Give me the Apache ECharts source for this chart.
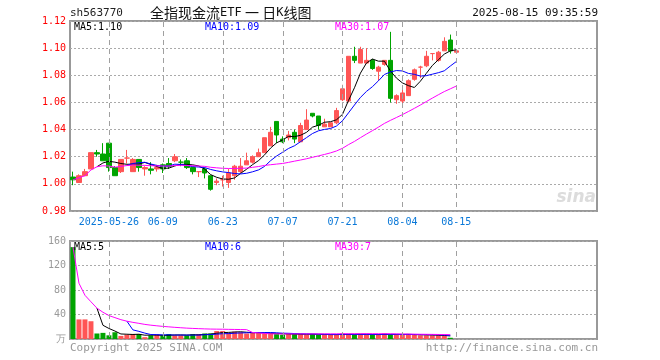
<!DOCTYPE html>
<html><head><meta charset="utf-8">
<script src="https://cdn.jsdelivr.net/npm/echarts@6/dist/echarts.min.js"></script>
<style>html,body{margin:0;padding:0;background:#fff}#c{width:660px;height:360px}</style>
</head><body><div id="c"></div>
<script>
// ---- data ----
const dates = [
 '2025-05-16','2025-05-19','2025-05-20','2025-05-21','2025-05-22','2025-05-23',
 '2025-05-26','2025-05-27','2025-05-28','2025-05-29','2025-05-30',
 '2025-06-03','2025-06-04','2025-06-05','2025-06-06',
 '2025-06-09','2025-06-10','2025-06-11','2025-06-12','2025-06-13',
 '2025-06-16','2025-06-17','2025-06-18','2025-06-19','2025-06-20',
 '2025-06-23','2025-06-24','2025-06-25','2025-06-26','2025-06-27',
 '2025-06-30','2025-07-01','2025-07-02','2025-07-03','2025-07-04',
 '2025-07-07','2025-07-08','2025-07-09','2025-07-10','2025-07-11',
 '2025-07-14','2025-07-15','2025-07-16','2025-07-17','2025-07-18',
 '2025-07-21','2025-07-22','2025-07-23','2025-07-24','2025-07-25',
 '2025-07-28','2025-07-29','2025-07-30','2025-07-31','2025-08-01',
 '2025-08-04','2025-08-05','2025-08-06','2025-08-07','2025-08-08',
 '2025-08-11','2025-08-12','2025-08-13','2025-08-14','2025-08-15'
];
const opens = [
 1.005,1.001,1.006,1.011,1.023,1.022,1.030,1.012,1.009,1.019,1.009,1.018,1.011,1.011,1.011,1.014,
 1.015,1.017,1.016,1.017,1.012,1.009,1.011,1.006,1.001,1.003,1.001,1.006,1.009,1.014,1.016,1.020,
 1.023,1.028,1.046,1.033,1.034,1.038,1.031,1.040,1.052,1.050,1.042,1.042,1.045,1.062,1.061,1.094,
 1.089,1.089,1.091,1.083,1.088,1.091,1.062,1.061,1.065,1.077,1.086,1.087,1.096,1.091,1.098,1.106,1.097
];
const closes = [
 1.003,1.006,1.009,1.023,1.022,1.017,1.012,1.006,1.018,1.019,1.018,1.012,1.012,1.010,1.012,1.011,
 1.013,1.020,1.016,1.012,1.009,1.009,1.008,0.996,1.002,1.003,1.008,1.013,1.013,1.017,1.020,1.023,
 1.034,1.038,1.036,1.031,1.036,1.033,1.043,1.047,1.050,1.043,1.044,1.045,1.054,1.070,1.094,1.091,
 1.099,1.091,1.085,1.086,1.091,1.063,1.065,1.067,1.076,1.084,1.086,1.094,1.096,1.097,1.105,1.098,1.098
];
const lows = [
 0.999,1.001,1.006,1.011,1.020,1.017,1.009,1.006,1.008,1.015,1.009,1.009,1.006,1.007,1.009,1.008,
 1.011,1.016,1.013,1.011,1.007,1.005,1.004,0.995,0.999,0.998,0.997,1.003,1.008,1.014,1.015,1.020,
 1.023,1.028,1.030,1.030,1.032,1.030,1.031,1.040,1.049,1.040,1.042,1.042,1.044,1.061,1.060,1.089,
 1.089,1.089,1.084,1.076,1.087,1.060,1.059,1.058,1.065,1.076,1.078,1.086,1.091,1.090,1.098,1.096,1.097
];
const highs = [
 1.009,1.007,1.011,1.023,1.025,1.030,1.030,1.013,1.018,1.025,1.019,1.018,1.013,1.016,1.014,1.015,
 1.019,1.022,1.018,1.019,1.012,1.009,1.012,1.006,1.004,1.006,1.011,1.014,1.019,1.023,1.021,1.026,
 1.034,1.042,1.046,1.035,1.039,1.040,1.045,1.055,1.052,1.050,1.048,1.045,1.056,1.073,1.094,1.101,
 1.101,1.100,1.092,1.087,1.091,1.112,1.066,1.071,1.077,1.085,1.087,1.098,1.096,1.098,1.108,1.110,1.099
];
const volumes = [
 150,32,32,29,9,10,6,11,5,7,8,8,3,6,7,6,8,6,6,6,8,8,9,9,13,13,10,12,11,9,10,10,9,9,
 8,7,8,8,8,7,8,7,7,7,7,9,8,7,8,7,7,7,9,7,7,7,8,7,6,6,6,6,5,2
];
// tick labels on the date axis
const tickDates  = ['2025-05-26','2025-06-09','2025-06-23','2025-07-07','2025-07-21','2025-08-04','2025-08-15'];
const tickLabels = ['2025-05-26','06-09','06-23','07-07','07-21','08-04','08-15'];
const priceTicks = [0.98,1.00,1.02,1.04,1.06,1.08,1.10,1.12];
const volTicks = [0,40,80,120,160];

// ---- layout / helpers ----
const SLOTS = 88;
const cats = dates.concat(Array.from({length: SLOTS - dates.length}, (_, k) => '_pad' + k));
const tickMap = {};
tickDates.forEach((d, i) => tickMap[d] = tickLabels[i]);
const isTick = (idx, val) => tickMap.hasOwnProperty(val);

function movingAvg(src, n, partialStart) {
  return src.map((_, i) => {
    if (i < n - 1 && !partialStart) return '-';
    const s = Math.max(0, i - n + 1);
    let sum = 0;
    for (let k = s; k <= i; k++) sum += src[k];
    return +(sum / (i - s + 1)).toFixed(5);
  });
}
const ma5 = movingAvg(closes, 5), ma10 = movingAvg(closes, 10), ma30 = movingAvg(closes, 30, true);
const vma5 = movingAvg(volumes, 5), vma10 = movingAvg(volumes, 10), vma30 = movingAvg(volumes, 30, true);
const last = a => a[a.length - 1];

const RED = '#ff5555', GREEN = '#00a400';
const MONO = 'DejaVu Sans Mono';
const candle = opens.map((o, i) => [o, closes[i], lows[i], highs[i]]);
const volData = volumes.map((v, i) => ({value: v, itemStyle: {color: closes[i] >= opens[i] ? RED : GREEN}}));

function txt(id, x, y, text, color, font, align) {
  return {type: 'text', id: id, x: x, y: y, silent: true, z: 100,
    style: {text: text, fill: color, font: font, textAlign: align || 'left', verticalAlign: 'middle'}};
}
const f10 = '10px "' + MONO + '"';
const f11 = '11px "' + MONO + '"';

const GRIDS = [
  {left: 70, right: 63, top: 21, height: 190, show: true, borderColor: '#999', borderWidth: 2},
  {left: 70, right: 63, top: 241, height: 98, show: true, borderColor: '#999', borderWidth: 2}
];

const chart = echarts.init(document.getElementById('c'), null, {renderer: 'canvas'});
chart.setOption({
  animation: false,
  backgroundColor: '#fff',
  grid: GRIDS,
  xAxis: [
    {type: 'category', data: cats, gridIndex: 0, boundaryGap: true,
     axisLine: {show: false}, axisTick: {show: false}, splitLine: {show: false},
     axisLabel: {interval: isTick, formatter: v => tickMap[v] || '',
       color: '#0a78d8', fontFamily: MONO, fontSize: 10, margin: 6}},
    {type: 'category', data: cats, gridIndex: 1, boundaryGap: true,
     axisLine: {show: false}, axisTick: {show: false}, splitLine: {show: false},
     axisLabel: {show: false}}
  ],
  yAxis: [
    {type: 'value', gridIndex: 0, min: priceTicks[0], max: priceTicks[priceTicks.length - 1], interval: 0.02,
     axisLine: {show: false}, axisTick: {show: false},
     axisLabel: {color: '#ff0000', fontFamily: MONO, fontSize: 10, margin: 4, formatter: v => v.toFixed(2)},
     splitLine: {lineStyle: {color: '#aaaaaa', type: [2, 2], width: 1}}},
    {type: 'value', gridIndex: 1, min: volTicks[0], max: volTicks[volTicks.length - 1], interval: 40,
     axisLine: {show: false}, axisTick: {show: false},
     axisLabel: {color: '#999', fontFamily: MONO, fontSize: 10, margin: 4, formatter: v => v === 0 ? '万' : String(v)},
     splitLine: {lineStyle: {color: '#aaaaaa', type: [2, 2], width: 1}}}
  ],
  series: [
    {type: 'candlestick', xAxisIndex: 0, yAxisIndex: 0, data: candle, barWidth: 5, z: 4,
     itemStyle: {color: RED, color0: GREEN, borderColor: RED, borderColor0: GREEN, borderWidth: 1}},
    {type: 'line', xAxisIndex: 0, yAxisIndex: 0, data: ma5, showSymbol: false, symbol: 'none',
     lineStyle: {color: '#000', width: 1}, z: 5},
    {type: 'line', xAxisIndex: 0, yAxisIndex: 0, data: ma10, showSymbol: false, symbol: 'none',
     lineStyle: {color: '#0000ff', width: 1}, z: 5},
    {type: 'line', xAxisIndex: 0, yAxisIndex: 0, data: ma30, showSymbol: false, symbol: 'none',
     lineStyle: {color: '#ff00ff', width: 1}, z: 5},
    {type: 'bar', xAxisIndex: 1, yAxisIndex: 1, data: volData, barWidth: 5, z: 4},
    {type: 'line', xAxisIndex: 1, yAxisIndex: 1, data: vma5, showSymbol: false, symbol: 'none',
     lineStyle: {color: '#000', width: 1}, z: 5},
    {type: 'line', xAxisIndex: 1, yAxisIndex: 1, data: vma10, showSymbol: false, symbol: 'none',
     lineStyle: {color: '#0000ff', width: 1}, z: 5},
    {type: 'line', xAxisIndex: 1, yAxisIndex: 1, data: vma30, showSymbol: false, symbol: 'none',
     lineStyle: {color: '#ff00ff', width: 1}, z: 5}
  ],
  graphic: [
    txt('t1', 70, 13, 'sh563770', '#222', f11),
    {type: 'text', id: 't2', x: 150, y: 13, silent: true, z: 100,
     style: {text: '{c|全指现金流}{l|ETF} {c|一} {c|日}{l|K}{c|线图}', verticalAlign: 'middle', textAlign: 'left',
       fill: '#111',
       rich: {c: {font: '14px "Noto Sans CJK SC"', fill: '#111'},
              l: {font: '12px "' + MONO + '"', fill: '#111'}}}},
    txt('t3', 598, 13, '2025-08-15 09:35:59', '#111', f11, 'right'),
    txt('t4', 74, 27, 'MA5:' + last(ma5).toFixed(2), '#000', f10),
    txt('t5', 205, 27, 'MA10:' + last(ma10).toFixed(2), '#0000ff', f10),
    txt('t6', 335, 27, 'MA30:' + last(ma30).toFixed(2), '#ff00ff', f10),
    txt('t7', 74, 247, 'MA5:' + Math.round(last(vma5)), '#000', f10),
    txt('t8', 205, 247, 'MA10:' + Math.round(last(vma10)), '#0000ff', f10),
    txt('t9', 335, 247, 'MA30:' + Math.round(last(vma30)), '#ff00ff', f10),
    txt('t10', 70, 348, 'Copyright 2025 SINA.COM', '#999', f11),
    txt('t11', 598, 348, 'http://finance.sina.com.cn', '#999', f11, 'right'),
    txt('t12', 596, 198, 'sina', '#dcdcdc', 'italic bold 17px "DejaVu Sans"', 'right')
  ]
});

// vertical dashed gridlines at the labelled dates, positioned through the category axes
const vlines = [];
[0, 1].forEach(g => {
  const top = GRIDS[g].top, bottom = GRIDS[g].top + GRIDS[g].height;
  tickDates.forEach((d, i) => {
    const px = chart.convertToPixel({xAxisIndex: g}, cats.indexOf(d));
    const x = Math.round(px) + 0.5;
    vlines.push({type: 'line', id: 'v' + g + '_' + i, silent: true, z: 50,
      shape: {x1: x, y1: top + 1, x2: x, y2: bottom - 1},
      style: {stroke: '#a0a0a0', lineWidth: 1, lineDash: [5, 4]}});
  });
});
chart.setOption({graphic: {elements: vlines}});
</script>
</body></html>
